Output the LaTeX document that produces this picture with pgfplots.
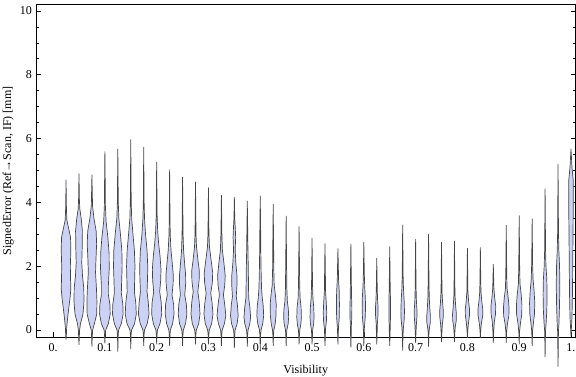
\documentclass[border=0pt,12pt]{standalone}
\usepackage{fontspec}
\setmainfont{Liberation Serif}
\usepackage{pgfplots}
\pgfplotsset{compat=1.18}
\definecolor{vfill}{RGB}{204,210,245}
\definecolor{vedge}{RGB}{70,70,70}
\def\pxu{0.0019305}
\newcommand{\violin}[2]{%
  \gdef\vR{}\gdef\vL{}%
  \foreach \yy/\ww in {#2}{%
    \pgfmathsetmacro\xr{#1+\ww*\pxu}%
    \pgfmathsetmacro\xl{#1-\ww*\pxu}%
    \xdef\vR{\vR(\xr,\yy)}%
    \xdef\vL{(\xl,\yy)\vL}%
  }%
  \edef\vtmp{\noexpand\addplot[violin] coordinates {\vR\vL};}%
  \vtmp
}
\begin{document}
\begin{tikzpicture}
\begin{axis}[
  scale only axis, width=539.5pt, height=332.5pt,
  xmin=-0.033, xmax=1.0087, ymin=-0.22, ymax=10.2,
  clip=false,
  axis line style={line width=0.6pt},
  xtick={0,0.1,0.2,0.3,0.4,0.5,0.6,0.7,0.8,0.9,1},
  xticklabels={0.,0.1,0.2,0.3,0.4,0.5,0.6,0.7,0.8,0.9,1.},
  ytick={0,2,4,6,8,10}, minor y tick num=3,
  tick align=inside, xtick pos=bottom, ytick pos=both,
  major tick length=5pt, minor tick length=3pt,
  every tick/.style={black, line width=0.5pt},
  /pgf/number format/assume math mode=true,
  tick label style={font=\fontsize{12}{14}\selectfont},
  xticklabel style={yshift=-2pt},
  label style={font=\fontsize{12}{14}\selectfont},
  xlabel={Visibility}, ylabel={SignedError (Ref→Scan, IF) [mm]},
  xlabel style={yshift=-6pt}, ylabel style={yshift=-2pt},
  violin/.style={fill=vfill, draw=vedge, line width=0.7pt, line join=round, mark=none},
]
\violin{0.025}{-0.30/0,-0.15/0.35,0.05/0.6,0.35/1.5,0.7/2.8,1.0/4.0,1.3/4.8,1.6/4.5,2.0/4.3,2.5/4.8,2.9/4.5,3.2/2.5,3.45/0.8,3.8/0.4,4.7/0}
\violin{0.05}{-0.47/0,-0.2/0.35,0.0/0.6,0.2/1.5,0.5/4.0,0.9/5.0,1.3/4.8,1.7/3.5,2.1/2.8,2.6/3.2,3.1/3.4,3.5/2.2,3.8/0.8,4.1/0.4,4.9/0}
\violin{0.075}{-0.52/0,-0.2/0.35,0.0/0.7,0.2/2.5,0.5/4.8,0.9/5.0,1.3/4.5,1.8/3.6,2.2/4.0,2.7/4.7,3.1/4.2,3.5/2.0,3.9/0.6,4.86/0}
\violin{0.1}{-0.42/0,-0.15/0.35,0.0/0.8,0.2/3.5,0.5/5.3,0.8/5.0,1.1/3.5,1.4/3.5,1.9/4.3,2.4/4.2,2.9/3.0,3.4/1.2,3.9/0.5,4.5/0.35,5.59/0}
\violin{0.125}{-0.68/0,-0.15/0.35,0.0/0.8,0.2/3.5,0.5/5.3,0.8/5.0,1.15/3.5,1.5/3.8,2.0/4.3,2.5/4.0,3.0/2.6,3.5/1.0,4.0/0.45,5.67/0}
\violin{0.15}{-0.6/0,-0.15/0.35,0.0/0.8,0.2/3.8,0.5/5.5,0.85/5.0,1.2/3.6,1.6/3.9,2.0/4.2,2.5/3.6,3.0/2.2,3.5/0.9,4.0/0.45,5.96/0}
\violin{0.175}{-0.5/0,-0.15/0.35,0.0/0.8,0.2/3.5,0.5/5.3,0.85/4.6,1.2/3.3,1.6/3.8,2.0/4.0,2.5/3.3,3.0/1.8,3.5/0.8,4.0/0.4,5.73/0}
\violin{0.2}{-0.45/0,-0.15/0.35,0.0/0.8,0.2/3.3,0.5/5.0,0.85/4.6,1.2/3.0,1.55/4.0,1.9/4.3,2.3/3.4,2.7/2.0,3.1/1.0,3.6/0.45,5.26/0}
\violin{0.225}{-0.5/0,-0.15/0.35,0.0/0.8,0.2/3.0,0.5/4.4,0.8/4.0,1.1/2.4,1.45/3.5,1.75/3.6,2.1/2.6,2.5/1.4,3.0/0.6,3.5/0.4,5.02/0}
\violin{0.25}{-0.5/0,-0.15/0.35,0.0/0.8,0.2/3.0,0.5/4.3,0.8/3.8,1.1/2.2,1.45/3.1,1.75/3.0,2.1/2.0,2.5/1.0,3.0/0.5,4.79/0}
\violin{0.275}{-0.45/0,-0.15/0.35,0.0/0.8,0.2/3.2,0.5/4.5,0.85/3.8,1.2/2.3,1.55/3.6,1.85/3.8,2.2/2.4,2.6/1.0,3.0/0.5,4.64/0}
\violin{0.3}{-0.45/0,-0.15/0.35,0.0/0.8,0.2/3.2,0.5/4.5,0.85/3.6,1.15/2.3,1.5/3.9,1.8/4.2,2.15/2.8,2.6/1.0,3.0/0.5,4.46/0}
\violin{0.325}{-0.5/0,-0.15/0.35,0.0/0.8,0.2/3.0,0.45/4.4,0.8/3.3,1.1/2.0,1.4/3.3,1.7/3.8,2.1/2.5,2.5/1.0,3.0/0.5,4.22/0}
\violin{0.35}{-0.57/0,-0.15/0.35,0.0/0.8,0.2/2.8,0.45/3.8,0.8/3.0,1.05/1.9,1.4/2.6,1.7/2.6,2.1/1.5,2.5/0.8,2.9/1.3,3.2/0.9,3.5/0.4,4.16/0}
\violin{0.375}{-0.52/0,-0.15/0.35,0.0/0.8,0.2/2.5,0.4/3.3,0.7/2.6,1.0/1.4,1.4/1.2,1.9/1.0,2.4/0.7,3.0/0.45,4.04/0}
\violin{0.4}{-0.65/0,-0.15/0.35,0.0/0.8,0.2/2.5,0.45/3.4,0.75/3.0,1.0/2.0,1.3/1.3,1.8/0.9,2.4/0.6,3.0/0.45,4.2/0}
\violin{0.425}{-0.5/0,-0.15/0.35,0.0/0.7,0.2/2.0,0.45/2.8,0.8/3.0,1.1/2.2,1.4/1.0,1.9/0.6,2.5/0.45,3.94/0}
\violin{0.45}{-0.5/0,-0.15/0.35,0.0/0.7,0.2/2.0,0.4/2.5,0.65/2.2,0.9/1.2,1.3/0.7,2.0/0.45,3.57/0}
\violin{0.475}{-0.45/0,-0.15/0.35,0.0/0.7,0.2/1.8,0.4/2.3,0.7/2.0,1.0/1.0,1.4/0.6,2.0/0.4,3.24/0}
\violin{0.5}{-0.45/0,-0.15/0.35,0.0/0.6,0.2/1.6,0.4/2.0,0.7/1.7,1.0/0.9,1.4/0.5,2.87/0}
\violin{0.525}{-0.5/0,-0.15/0.35,0.05/0.6,0.3/1.5,0.55/1.7,0.85/1.3,1.2/0.6,1.6/0.45,2.7/0}
\violin{0.55}{-0.45/0,-0.1/0.35,0.1/0.6,0.4/1.3,0.8/1.5,1.2/1.3,1.6/0.6,2.0/0.4,2.55/0}
\violin{0.575}{-0.55/0,-0.1/0.35,0.15/0.5,0.4/0.9,0.7/1.0,1.0/0.7,1.5/0.45,2.7/0}
\violin{0.6}{-0.5/0,-0.1/0.35,0.1/0.6,0.4/1.4,0.7/1.7,1.0/1.5,1.4/0.8,1.8/0.45,2.75/0}
\violin{0.625}{-0.45/0,-0.1/0.35,0.2/0.6,0.45/1.2,0.7/1.3,0.95/0.8,1.3/0.45,2.25/0}
\violin{0.65}{-0.5/0,-0.1/0.35,0.2/0.6,0.5/0.8,0.9/0.8,1.3/0.5,2.61/0}
\violin{0.675}{-0.65/0,-0.15/0.35,0.1/0.8,0.35/1.6,0.6/1.8,0.9/1.5,1.3/0.8,1.7/0.45,3.29/0}
\violin{0.7}{-0.4/0,-0.1/0.35,0.15/0.7,0.4/1.3,0.65/1.3,0.9/0.8,1.3/0.45,2.84/0}
\violin{0.725}{-0.52/0,-0.1/0.35,0.05/0.8,0.25/1.8,0.45/1.8,0.7/1.2,1.0/0.7,1.4/0.45,3.0/0}
\violin{0.75}{-0.38/0,-0.1/0.35,0.15/0.8,0.4/1.7,0.6/1.8,0.85/1.1,1.2/0.5,2.75/0}
\violin{0.775}{-0.38/0,-0.1/0.35,0.1/0.8,0.3/1.8,0.5/1.9,0.75/1.2,1.1/0.5,2.79/0}
\violin{0.8}{-0.25/0,0.0/0.4,0.2/1.0,0.45/2.0,0.65/2.1,0.9/1.2,1.2/0.5,2.56/0}
\violin{0.825}{-0.25/0,0.0/0.4,0.2/1.0,0.45/2.3,0.65/2.4,0.9/1.4,1.2/0.6,1.6/0.4,2.58/0}
\violin{0.85}{-0.4/0,-0.05/0.4,0.25/1.0,0.5/2.2,0.75/2.4,1.0/1.4,1.3/0.6,2.06/0}
\violin{0.875}{-0.4/0,-0.05/0.4,0.2/1.2,0.45/2.6,0.7/2.8,1.0/2.0,1.3/0.8,1.8/0.45,3.28/0}
\violin{0.9}{-0.45/0,-0.05/0.4,0.2/1.2,0.5/2.6,0.8/2.7,1.1/2.0,1.45/0.8,2.0/0.45,3.58/0}
\violin{0.925}{-0.5/0,-0.05/0.4,0.2/1.2,0.5/2.3,0.85/2.6,1.2/2.0,1.6/0.9,2.1/0.45,3.48/0}
\violin{0.95}{-0.85/0,-0.05/0.4,0.2/1.0,0.6/1.7,1.1/2.0,1.6/1.7,2.0/0.9,2.5/0.45,4.42/0}
\violin{0.975}{-1.15/0,-0.05/0.4,0.2/0.9,0.7/1.4,1.4/1.8,2.0/1.5,2.5/0.8,3.0/0.45,5.19/0}
\violin{1.0}{-0.2/0,0.05/0.4,0.4/1.0,1.2/1.5,2.0/1.7,3.0/2.0,4.0/2.3,4.7/2.2,5.1/1.0,5.67/0}
\end{axis}
\pgfresetboundingbox
\path (current axis.south west) ++(-36pt,-40pt) coordinate (bbA);
\path (current axis.north east) ++(0.5pt,4.5pt) coordinate (bbB);
\path (bbA) rectangle (bbB);
\end{tikzpicture}
\end{document}
